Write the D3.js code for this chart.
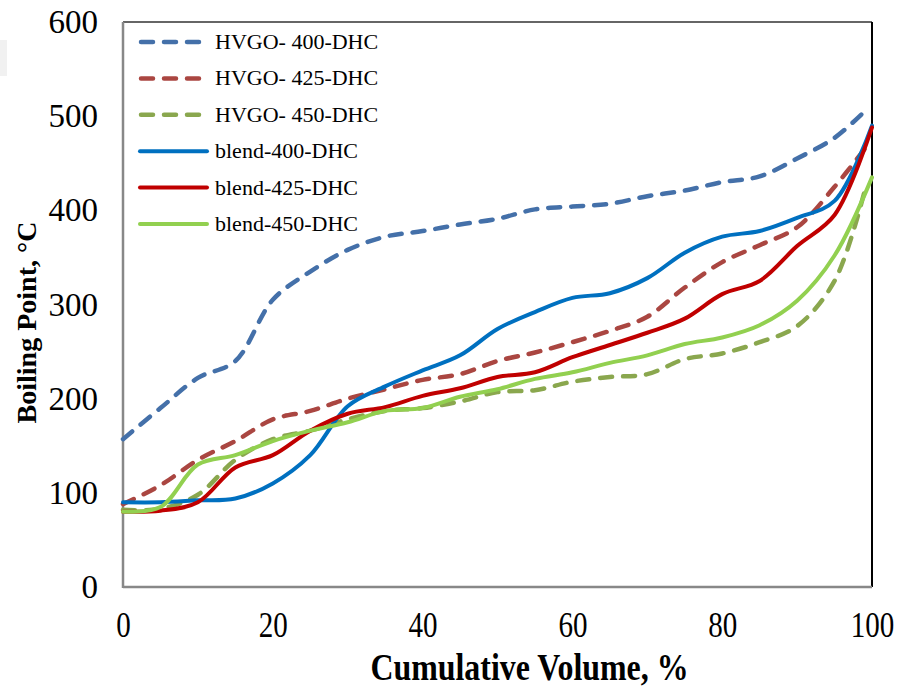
<!DOCTYPE html>
<html>
<head>
<meta charset="utf-8">
<script src="https://cdn.jsdelivr.net/npm/d3@7/dist/d3.min.js"></script>
<style>
  html, body { margin: 0; padding: 0; background: #fff; }
  svg { display: block; }
  text { font-family: "Liberation Serif", "Times New Roman", serif; fill: #000; }
</style>
</head>
<body>
<svg id="chart" width="901" height="689"></svg>
<script>
// Cumulative volume (%) at which each boiling point was recorded
const volume = [0, 5, 10, 15, 20, 25, 30, 35, 40, 45, 50, 55, 60, 65, 70, 75, 80, 85, 90, 95, 100];
const volumeHvgo = [0, 5, 10, 15, 20, 25, 30, 35, 40, 45, 50, 55, 60, 65, 70, 75, 80, 85, 90, 95, 99];

// Boiling points, °C
const hvgo400 = [157, 190, 222, 240, 305, 335, 358, 372, 378, 385, 391, 401, 404, 407, 415, 421, 430, 436, 455, 477, 505];
const hvgo425 = [88, 108, 135, 155, 178, 187, 200, 210, 220, 226, 240, 249, 260, 272, 287, 318, 345, 363, 382, 425, 465];
const hvgo450 = [82, 83, 98, 135, 157, 166, 178, 187, 190, 197, 207, 209, 218, 223, 226, 242, 248, 260, 277, 325, 420];
const blend400 = [90, 90, 92, 94, 110, 140, 192, 213, 230, 246, 274, 292, 307, 312, 328, 355, 372, 378, 392, 410, 490];
const blend425 = [80, 81, 90, 127, 140, 166, 184, 191, 203, 211, 223, 228, 244, 257, 270, 285, 311, 325, 362, 395, 488];
const blend450 = [80, 85, 130, 140, 155, 166, 175, 187, 190, 202, 210, 221, 228, 238, 246, 258, 265, 278, 304, 352, 435];

const seriesNames = ["HVGO- 400-DHC", "HVGO- 425-DHC", "HVGO- 450-DHC", "blend-400-DHC", "blend-425-DHC", "blend-450-DHC"];
const xTicks = [0, 20, 40, 60, 80, 100];
const yTicks = [0, 100, 200, 300, 400, 500, 600];

const series = [
  { name: seriesNames[0], x: volumeHvgo, y: hvgo400, color: "#4470a9", dashed: true },
  { name: seriesNames[1], x: volumeHvgo, y: hvgo425, color: "#aa4641", dashed: true },
  { name: seriesNames[2], x: volumeHvgo, y: hvgo450, color: "#8aa74e", dashed: true },
  { name: seriesNames[3], x: volume, y: blend400, color: "#0070c0", dashed: false },
  { name: seriesNames[4], x: volume, y: blend425, color: "#c00000", dashed: false },
  { name: seriesNames[5], x: volume, y: blend450, color: "#92d050", dashed: false }
];

const FONT = "Liberation Serif, Times New Roman, serif";
const svg = d3.select("#chart");
const plot = { left: 123, right: 872, top: 22, bottom: 587 };

const x = d3.scaleLinear().domain([0, 100]).range([plot.left, plot.right]);
const y = d3.scaleLinear().domain([0, 600]).range([plot.bottom, plot.top]);

// small light patch at the upper-left edge
svg.append("rect").attr("x", 0).attr("y", 40).attr("width", 7).attr("height", 36).attr("fill", "#f1f1f1");

// plot-area frame: dark on the top/right
svg.append("line").attr("x1", plot.left).attr("x2", plot.right).attr("y1", plot.top).attr("y2", plot.top)
  .attr("stroke", "#333").attr("stroke-width", 1.5);
svg.append("line").attr("x1", plot.right).attr("x2", plot.right).attr("y1", plot.top).attr("y2", plot.bottom)
  .attr("stroke", "#000").attr("stroke-width", 2);

// axes (labels only, no tick marks)
const xAxis = svg.append("g").attr("transform", `translate(0,${plot.bottom})`)
  .call(d3.axisBottom(x).tickValues(xTicks).tickSize(0).tickPadding(25).tickFormat(d3.format("d")));
xAxis.select(".domain").remove();
xAxis.selectAll("text")
  .style("font-size", "35px").style("font-family", FONT)
  .attr("transform", "scale(0.83,1)");

const yAxis = svg.append("g").attr("transform", `translate(${plot.left},0)`)
  .call(d3.axisLeft(y).tickValues(yTicks).tickSize(0).tickPadding(25).tickFormat(d3.format("d")));
yAxis.select(".domain").remove();
yAxis.selectAll("text").style("font-size", "33px").style("font-family", FONT);

// grey left/bottom axis lines
svg.append("line").attr("x1", plot.left).attr("x2", plot.left).attr("y1", plot.top).attr("y2", plot.bottom + 1)
  .attr("stroke", "#888").attr("stroke-width", 2.5);
svg.append("line").attr("x1", plot.left).attr("x2", plot.right).attr("y1", plot.bottom).attr("y2", plot.bottom)
  .attr("stroke", "#888").attr("stroke-width", 2.5);

// axis titles
const xTitleX = (plot.left + plot.right) / 2 + 32;
svg.append("text")
  .attr("transform", `translate(${xTitleX},680) scale(0.84,1)`)
  .attr("text-anchor", "middle")
  .style("font-family", FONT)
  .style("font-size", "38px").style("font-weight", "bold")
  .text("Cumulative Volume, %");

svg.append("text")
  .attr("transform", `translate(36,${(plot.top + plot.bottom) / 2 + 18}) rotate(-90)`)
  .attr("text-anchor", "middle")
  .style("font-family", FONT)
  .style("font-size", "28px").style("font-weight", "bold")
  .text("Boiling Point, °C");

// curves
const line = d3.line()
  .x(d => x(d[0]))
  .y(d => y(d[1]))
  .curve(d3.curveCatmullRom.alpha(0.5));

const g = svg.append("g");
series.forEach(s => {
  const pts = s.x.map((v, i) => [v, s.y[i]]);
  g.append("path")
    .datum(pts)
    .attr("d", line)
    .attr("fill", "none")
    .attr("stroke", s.color)
    .attr("stroke-width", s.dashed ? 4.5 : 4)
    .attr("stroke-linecap", "round")
    .attr("stroke-linejoin", "round")
    .attr("stroke-dasharray", s.dashed ? "12,11" : null);
});

// legend
const legend = svg.append("g");
const legendTop = 42, legendStep = 36.4;
series.forEach((s, i) => {
  const yy = legendTop + i * legendStep;
  legend.append("line")
    .attr("x1", s.dashed ? 141 : 140).attr("x2", s.dashed ? 202 : 207)
    .attr("y1", yy).attr("y2", yy)
    .attr("stroke", s.color)
    .attr("stroke-width", s.dashed ? 4.5 : 4)
    .attr("stroke-linecap", "round")
    .attr("stroke-dasharray", s.dashed ? "12,11" : null);
  legend.append("text")
    .attr("x", 215).attr("y", yy + 7)
    .style("font-family", FONT)
    .style("font-size", "22px")
    .text(s.name);
});
</script>
</body>
</html>
